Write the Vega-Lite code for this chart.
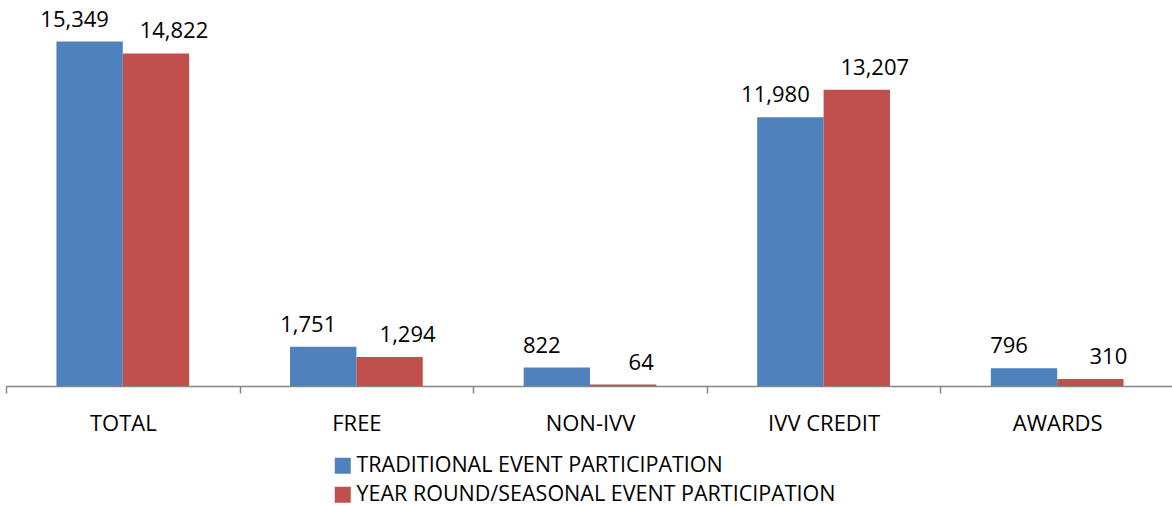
{
  "$schema": "https://vega.github.io/schema/vega-lite/v6.json",
  "width": 1168,
  "height": 359,
  "autosize": {"type": "none"},
  "padding": {"left": 6, "top": 27, "right": 0, "bottom": 120},
  "background": "white",
  "config": {"view": {"stroke": null}},
  "data": {
    "values": [
      {"category": "TOTAL", "series": "TRADITIONAL EVENT PARTICIPATION", "value": 15349},
      {"category": "TOTAL", "series": "YEAR ROUND/SEASONAL EVENT PARTICIPATION", "value": 14822},
      {"category": "FREE", "series": "TRADITIONAL EVENT PARTICIPATION", "value": 1751},
      {"category": "FREE", "series": "YEAR ROUND/SEASONAL EVENT PARTICIPATION", "value": 1294},
      {"category": "NON-IVV", "series": "TRADITIONAL EVENT PARTICIPATION", "value": 822},
      {"category": "NON-IVV", "series": "YEAR ROUND/SEASONAL EVENT PARTICIPATION", "value": 64},
      {"category": "IVV CREDIT", "series": "TRADITIONAL EVENT PARTICIPATION", "value": 11980},
      {"category": "IVV CREDIT", "series": "YEAR ROUND/SEASONAL EVENT PARTICIPATION", "value": 13207},
      {"category": "AWARDS", "series": "TRADITIONAL EVENT PARTICIPATION", "value": 796},
      {"category": "AWARDS", "series": "YEAR ROUND/SEASONAL EVENT PARTICIPATION", "value": 310}
    ]
  },
  "encoding": {
    "x": {
      "field": "category",
      "type": "nominal",
      "sort": ["TOTAL", "FREE", "NON-IVV", "IVV CREDIT", "AWARDS"],
      "scale": {"paddingInner": 0, "paddingOuter": 0},
      "axis": {
        "title": null,
        "labelAngle": 0,
        "labelFont": "Open Sans",
        "labelFontSize": 22,
        "labelColor": "black",
        "labelPadding": 20,
        "tickBand": "extent",
        "tickSize": 7,
        "tickColor": "#868686",
        "domainColor": "#868686",
        "domainWidth": 1.5,
        "tickWidth": 1.5
      }
    },
    "xOffset": {
      "field": "series",
      "type": "nominal",
      "scale": {"paddingInner": 0, "paddingOuter": 0.76}
    },
    "y": {
      "field": "value",
      "type": "quantitative",
      "scale": {"domain": [0, 16000]},
      "axis": null
    }
  },
  "layer": [
    {
      "mark": {"type": "bar"},
      "encoding": {
        "color": {
          "field": "series",
          "type": "nominal",
          "scale": {"range": ["#4F81BD", "#C0504D"]},
          "legend": {
            "title": null,
            "orient": "none",
            "legendX": 326,
            "legendY": 428,
            "symbolType": "square",
            "symbolSize": 256,
            "symbolStrokeWidth": 0,
            "labelFont": "Open Sans",
            "labelFontSize": 21.5,
            "labelColor": "black",
            "labelOffset": 3,
            "rowPadding": 6,
            "labelLimit": 800
          }
        }
      }
    },
    {
      "transform": [{"filter": "datum.series == 'TRADITIONAL EVENT PARTICIPATION'"}],
      "mark": {"type": "text", "font": "Open Sans", "fontSize": 22, "color": "black", "baseline": "alphabetic", "dy": -15, "dx": -15},
      "encoding": {
        "text": {"field": "value", "type": "quantitative", "format": ","}
      }
    },
    {
      "transform": [{"filter": "datum.series != 'TRADITIONAL EVENT PARTICIPATION'"}],
      "mark": {"type": "text", "font": "Open Sans", "fontSize": 22, "color": "black", "baseline": "alphabetic", "dy": -15, "dx": 18},
      "encoding": {
        "text": {"field": "value", "type": "quantitative", "format": ","}
      }
    }
  ]
}
